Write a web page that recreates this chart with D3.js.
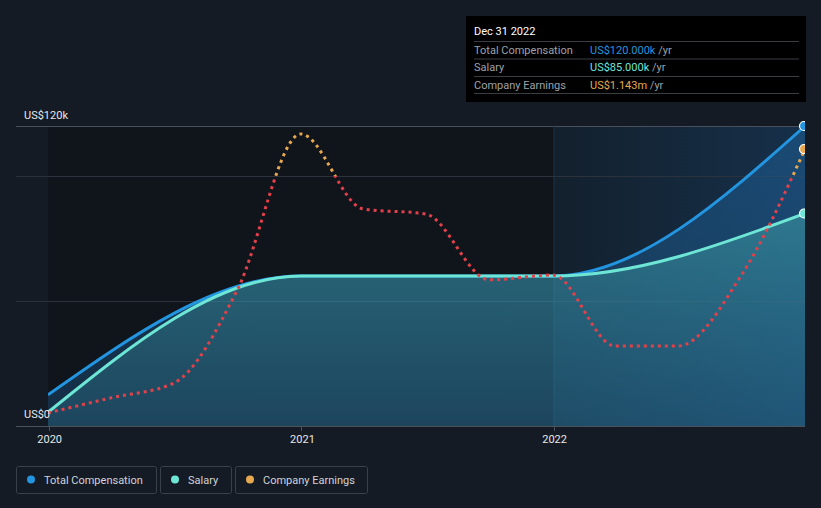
<!DOCTYPE html>
<html>
<head>
<meta charset="utf-8">
<script src="https://cdn.jsdelivr.net/npm/d3@7"></script>
<style>
  html, body { margin: 0; padding: 0; background: #151b25; }
  svg { display: block; font-family: Roboto, "Open Sans", sans-serif; }
</style>
</head>
<body>
<svg id="chart" width="821" height="508"></svg>
<script>
// ---- data ----
const compDates = ["2019-12-31", "2020-12-31", "2021-12-31", "2022-12-31"];
const totalComp = [12.5, 60, 60, 120];      // US$k
const salary = [5.5, 60, 60, 85];            // US$k
const earningsDates = ["2019-12-31", "2020-03-31", "2020-06-30", "2020-09-30", "2020-12-31",
  "2021-03-31", "2021-06-30", "2021-09-30", "2021-12-31",
  "2022-03-31", "2022-06-30", "2022-09-30", "2022-12-31"];
const earnings = [0.054, 0.116, 0.177, 0.561, 1.205, 0.896, 0.875, 0.603, 0.623, 0.330, 0.330, 0.623, 1.143]; // US$m
const xTickLabels = ["2020", "2021", "2022"];
const yTickLabels = ["US$0", "US$120k"];
const gridValues = [0, 50, 100, 120];
const legendItems = ["Total Compensation", "Salary", "Company Earnings"];
const tooltipTitle = "Dec 31 2022";
const tooltipRows = [
  ["Total Compensation", "US$120.000k", "/yr"],
  ["Salary", "US$85.000k", "/yr"],
  ["Company Earnings", "US$1.143m", "/yr"]
];

(function () {
// ---- style ----
const C = { total: "#2394df", salary: "#6ee6d6", earnUp: "#e8a84e", earnDown: "#e2404a" };
const parse = d3.timeParse("%Y-%m-%d");

const svg = d3.select("#chart");
const pL = 48, pR = 805, pT = 126, pB = 426;

const x = d3.scaleTime().domain([parse("2019-12-31"), parse("2022-12-31")]).range([pL, pR]);
const y = d3.scaleLinear().domain([0, 120]).range([pB, pT]);
const yE = d3.scaleLinear().domain([0, 1.238]).range([pB, pT]);

const defs = svg.append("defs");
defs.append("clipPath").attr("id", "plotClip").append("rect")
  .attr("x", pL).attr("y", 0).attr("width", pR - pL).attr("height", pB + 1);

const hl = defs.append("linearGradient").attr("id", "hl").attr("x1", 0).attr("x2", 1).attr("y1", 0).attr("y2", 0);
hl.append("stop").attr("offset", 0).attr("stop-color", "#13202d").attr("stop-opacity", 1);
hl.append("stop").attr("offset", 1).attr("stop-color", "#16304a").attr("stop-opacity", 1);

const salG = defs.append("linearGradient").attr("id", "salG").attr("x1", 0).attr("x2", 0).attr("y1", 0).attr("y2", 1);
salG.append("stop").attr("offset", 0).attr("stop-color", "#4fc7c0").attr("stop-opacity", 0.38);
salG.append("stop").attr("offset", 1).attr("stop-color", "#3a9ab0").attr("stop-opacity", 0.22);

const totG = defs.append("linearGradient").attr("id", "totG").attr("x1", 0).attr("x2", 0).attr("y1", 0).attr("y2", 1);
totG.append("stop").attr("offset", 0).attr("stop-color", "#1f6aa8").attr("stop-opacity", 0.45);
totG.append("stop").attr("offset", 1).attr("stop-color", "#1f6aa8").attr("stop-opacity", 0.3);

const eG = defs.append("linearGradient").attr("id", "eG").attr("gradientUnits", "userSpaceOnUse")
  .attr("x1", 0).attr("x2", 0).attr("y1", pT).attr("y2", pB);
const thr = (y(100) - pT) / (pB - pT);
eG.append("stop").attr("offset", thr).attr("stop-color", C.earnUp);
eG.append("stop").attr("offset", thr).attr("stop-color", C.earnDown);

const x22 = x(parse("2022-01-01"));
// background regions
svg.append("rect").attr("x", pL).attr("y", pT).attr("width", x22 - pL)
  .attr("height", pB - pT).attr("fill", "#10141b");
svg.append("rect").attr("x", x22).attr("y", pT)
  .attr("width", pR - x22).attr("height", pB - pT).attr("fill", "url(#hl)");

// grid
svg.append("g").selectAll("line").data(gridValues.filter(v => v > 0)).join("line")
  .attr("x1", 16).attr("x2", pR).attr("y1", d => y(d) + 0.5).attr("y2", d => y(d) + 0.5)
  .attr("stroke", d => d === 120 ? "#4a505b" : "#2c323c").attr("stroke-width", 1);
svg.append("line").attr("x1", x22 + 0.5).attr("x2", x22 + 0.5)
  .attr("y1", pT).attr("y2", pB).attr("stroke", "#1d3346").attr("stroke-width", 1);

const compData = compDates.map((d, i) => ({ date: parse(d), total: totalComp[i], salary: salary[i] }));
const earnData = earningsDates.map((d, i) => ({ date: parse(d), v: earnings[i] }));

const plot = svg.append("g").attr("clip-path", "url(#plotClip)");
const curve = d3.curveMonotoneX;

plot.append("path").datum(compData)
  .attr("d", d3.area().x(d => x(d.date)).y0(pB).y1(d => y(d.total)).curve(curve))
  .attr("fill", "url(#totG)");
plot.append("path").datum(compData)
  .attr("d", d3.area().x(d => x(d.date)).y0(pB).y1(d => y(d.salary)).curve(curve))
  .attr("fill", "url(#salG)");

plot.append("path").datum(compData)
  .attr("d", d3.line().x(d => x(d.date)).y(d => y(d.total)).curve(curve))
  .attr("fill", "none").attr("stroke", C.total).attr("stroke-width", 3);
plot.append("path").datum(compData)
  .attr("d", d3.line().x(d => x(d.date)).y(d => y(d.salary)).curve(curve))
  .attr("fill", "none").attr("stroke", C.salary).attr("stroke-width", 3);

plot.append("path").datum(earnData)
  .attr("d", d3.line().x(d => x(d.date)).y(d => yE(d.v)).curve(curve))
  .attr("fill", "none").attr("stroke", "url(#eG)").attr("stroke-width", 3)
  .attr("stroke-dasharray", "3,4");

// end markers
const last = compData[compData.length - 1];
const lastE = earnData[earnData.length - 1];
[[y(last.total), C.total], [yE(lastE.v), C.earnUp], [y(last.salary), C.salary]].forEach(([cy, col]) => {
  plot.append("circle").attr("cx", x(last.date) - 1).attr("cy", cy).attr("r", 4.5)
    .attr("fill", col).attr("stroke", "#ffffff").attr("stroke-width", 1.2);
});

// bottom axis
svg.append("line").attr("x1", 16).attr("x2", pR).attr("y1", pB + 0.5).attr("y2", pB + 0.5)
  .attr("stroke", "#4b515b").attr("stroke-width", 1);
const xTickDates = xTickLabels.map(t => parse(t + "-01-01"));
svg.append("g").selectAll("line").data(xTickDates).join("line")
  .attr("x1", d => Math.round(x(d)) + 0.5).attr("x2", d => Math.round(x(d)) + 0.5)
  .attr("y1", pB).attr("y2", pB + 5).attr("stroke", "#4b515b");
svg.append("g").selectAll("text").data(xTickDates).join("text")
  .attr("x", d => x(d) + 1).attr("y", 443).attr("text-anchor", "middle")
  .attr("fill", "#e6e8ea").attr("font-size", 11).text((d, i) => xTickLabels[i]);

// y labels
svg.append("text").attr("x", 24).attr("y", 119).attr("fill", "#e6e8ea").attr("font-size", 11).text(yTickLabels[1]);
svg.append("text").attr("x", 24).attr("y", 418).attr("fill", "#e6e8ea").attr("font-size", 11).text(yTickLabels[0]);

// tooltip
const tt = svg.append("g");
tt.append("rect").attr("x", 466).attr("y", 16).attr("width", 340).attr("height", 86).attr("fill", "#000000");
tt.append("text").attr("x", 474).attr("y", 35).attr("fill", "#ffffff").attr("font-size", 11).text(tooltipTitle);
const rowCols = [C.total, C.salary, C.earnUp];
tooltipRows.forEach((r, i) => {
  const ly = 41 + i * 17.5;
  tt.append("line").attr("x1", 474).attr("x2", 799).attr("y1", ly + 0.5).attr("y2", ly + 0.5).attr("stroke", "#3a3d42");
  tt.append("text").attr("x", 474).attr("y", ly + 12.5).attr("fill", "#9ea2a8").attr("font-size", 11).text(r[0]);
  const t = tt.append("text").attr("x", 590).attr("y", ly + 12.5).attr("font-size", 11);
  t.append("tspan").attr("fill", rowCols[i]).text(r[1]);
  t.append("tspan").attr("fill", "#9ea2a8").text(" " + r[2]);
});
tt.append("line").attr("x1", 474).attr("x2", 799).attr("y1", 93.5).attr("y2", 93.5).attr("stroke", "#3a3d42");

// legend
const legX = [16, 160, 235], legW = [140, 71, 132];
const legCols = [C.total, C.salary, C.earnUp];
legendItems.forEach((name, i) => {
  const g = svg.append("g");
  g.append("rect").attr("x", legX[i] + 0.5).attr("y", 466.5).attr("width", legW[i]).attr("height", 27)
    .attr("rx", 2).attr("fill", "none").attr("stroke", "#3b414b");
  g.append("circle").attr("cx", legX[i] + 15).attr("cy", 479.5).attr("r", 4).attr("fill", legCols[i]);
  g.append("text").attr("x", legX[i] + 28).attr("y", 483.5).attr("fill", "#d0d3d7").attr("font-size", 11).text(name);
});
})();
</script>
</body>
</html>
